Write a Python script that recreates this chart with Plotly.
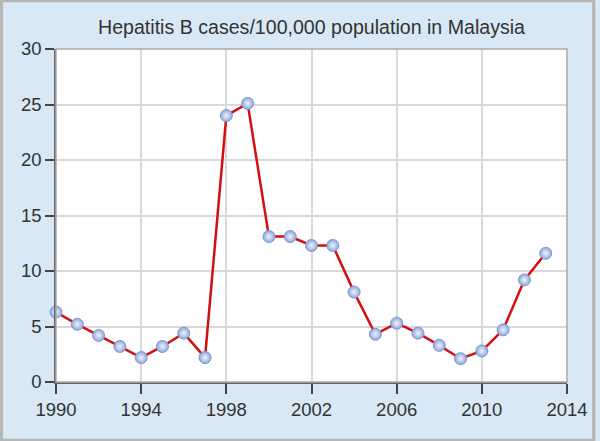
import plotly.graph_objects as go

years = list(range(1990, 2014))
cases = [6.3, 5.2, 4.2, 3.2, 2.2, 3.2, 4.4, 2.2, 24.0, 25.1, 13.1, 13.1,
         12.3, 12.3, 8.1, 4.3, 5.3, 4.4, 3.3, 2.1, 2.8, 4.7, 9.2, 11.6]
x_ticks = [1990, 1994, 1998, 2002, 2006, 2010, 2014]
y_ticks = [0, 5, 10, 15, 20, 25, 30]
title = "Hepatitis B cases/100,000 population in Malaysia"

fig = go.Figure()
fig.add_trace(go.Scatter(
    x=years, y=cases, mode="lines+markers",
    line=dict(color="#d40f0f", width=2.5),
    marker=dict(size=12, color="#8fa6dc", symbol="circle",
                gradient=dict(type="radial", color="#f0f4ff"),
                line=dict(color="#7d98cf", width=1)),
    cliponaxis=False, showlegend=False,
))

fig.update_layout(
    width=600, height=441,
    margin=dict(l=56, r=28, t=49, b=59),
    paper_bgcolor="#d8e8f4",
    plot_bgcolor="#ffffff",
    title=dict(text=title, xref="paper", x=0.5, xanchor="center", y=1 - 27/441, yanchor="middle",
               font=dict(family="Liberation Sans, Arial", size=19.6, color="#333333")),
    font=dict(family="Liberation Sans, Arial", size=18, color="#333333"),
    xaxis=dict(range=[1990, 2014], tickvals=x_ticks, ticks="outside", ticklen=10,
               tickcolor="#444444", tickwidth=1.5, showgrid=True, gridcolor="#d9d9d9",
               gridwidth=1.5, showline=True, linecolor="#666666", linewidth=1.5,
               mirror=False, zeroline=False, tickfont=dict(size=18.5, color="#333333")),
    yaxis=dict(range=[0, 30], tickvals=y_ticks, ticks="outside", ticklen=9,
               tickcolor="#444444", tickwidth=1.5, showgrid=True, gridcolor="#d9d9d9",
               gridwidth=1.5, showline=True, linecolor="#666666", linewidth=1.5,
               zeroline=False, tickfont=dict(size=18.5, color="#333333")),
    shapes=[
        dict(type="rect", xref="paper", yref="paper", x0=0, x1=1, y0=0, y1=1,
             line=dict(color="#aaaaaa", width=1.5), fillcolor="rgba(0,0,0,0)", layer="above"),
        dict(type="rect", xref="paper", yref="paper",
             x0=-56/516 + 1/516, x1=1 + 28/516 - 1/516,
             y0=-59/332 + 1/332, y1=1 + 49/332 - 1/332,
             line=dict(color="#b5b5b5", width=3), fillcolor="rgba(0,0,0,0)", layer="below"),
    ],
)

fig.write_html("out.html", config={"displayModeBar": False},
               post_script="document.body.style.margin='0';")
